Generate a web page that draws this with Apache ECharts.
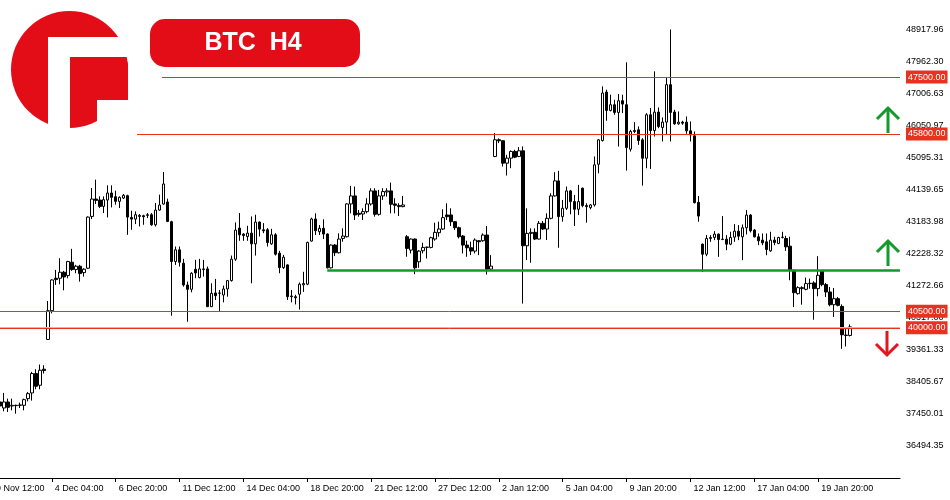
<!DOCTYPE html>
<html><head><meta charset="utf-8">
<script src="https://cdn.jsdelivr.net/npm/echarts@6/dist/echarts.min.js"></script>
<style>html,body{margin:0;padding:0;background:#fff}#c{width:950px;height:500px}</style>
</head><body><div id="c"></div>
<script>
// ---- data (H4 candles, index 3..216 of the visible slot grid) ----
const leadEmpty = 3;
const slots = 229;
const opens = [37783,37603,37783,37663,37683,37683,37683,37883,38053,38633,38283,38763,39653,40513,41483,41483,41663,41563,41963,41743,41843,41653,41783,43333,43853,43823,43633,43823,44033,43923,43783,43883,43953,43303,43253,43333,43353,43363,43383,43083,43523,43703,43763,43173,41983,42333,41933,41283,41153,41753,41503,41743,41763,40633,41043,41033,40983,41163,41413,42053,42983,42803,42733,42833,42513,43163,42933,42933,42513,42783,42233,41803,41883,40953,40930,41006,41286,41306,42596,43256,42876,42976,42806,41796,42476,42246,42676,42726,43706,43946,43426,43406,43476,43706,44096,43396,43946,44066,44096,43706,43656,43626,42726,42326,42656,41976,42306,42406,42406,42656,42846,42956,43376,43376,43176,42996,42746,42476,42396,42296,42606,42606,42776,41756,45126,45626,45596,44926,45076,45276,45126,45296,42456,42826,42856,42656,43126,42956,43276,43946,44396,43326,43576,44096,43776,43546,44176,43656,43596,43676,44893,45603,47053,46503,46673,46443,46793,46673,45343,45873,45923,45623,45073,46373,45903,46453,45993,46153,47273,46453,46103,46153,46153,45893,45743,43753,42503,42203,42673,42703,42803,42643,42653,42503,42713,42893,42723,42993,43373,42923,42723,42623,42573,42303,42623,42523,42703,42673,42443,41723,41023,41173,41153,41323,41343,41173,41693,41293,41073,40693,40873,40643,39773,39773];
const closes = [37663,37783,37623,37683,37673,37693,37853,38033,38633,38253,38733,38723,40513,41433,41443,41663,41523,41983,41743,41843,41623,41753,43313,43853,43813,43633,43833,44033,43903,43783,43903,43963,43313,43253,43383,43363,43323,43383,43083,43523,43673,44303,43183,41983,42333,41963,41283,41153,41633,41643,41763,41763,40633,41033,40963,41043,41163,41413,42053,42923,42783,42763,42833,42513,43163,42953,42903,42553,42783,42203,41803,42113,40933,40933,40900,41306,41326,42556,43256,42906,42976,42806,41796,42476,42246,42656,42746,43706,43946,43376,43396,43476,43706,44096,43396,43946,44076,44096,43696,43666,43626,43676,42376,42656,41796,42296,42406,42416,42696,42856,42956,43296,43326,43176,42996,42726,42476,42396,42296,42626,42576,42776,41756,41846,45626,45596,44926,45076,45276,45106,45296,42456,42826,42856,42656,43126,42956,43276,43946,44396,43326,43576,44096,43776,43546,43776,43656,43626,43676,44876,45623,47023,46503,46673,46443,46793,46693,45393,45873,45903,45603,45073,46373,45903,46453,46023,46153,47273,46443,46103,46153,46123,45893,45773,43743,43343,42203,42673,42703,42803,42643,42653,42503,42703,42893,42743,42993,43373,42903,42723,42603,42543,42343,42623,42553,42703,42713,42423,41723,41053,41203,41203,41323,41333,41173,41573,41293,41073,40693,40873,40673,39793,39783,40030];
const lows = [37633,37503,37483,37533,37433,37603,37533,37803,37823,38163,38163,38633,39640,40433,41283,41303,41123,41483,41703,41633,41383,41533,41763,43253,43703,43583,43433,43303,43603,43683,43583,43853,42783,42933,43103,43033,43083,43283,43053,43033,43503,43683,43163,40363,41883,41833,41233,40183,41063,41483,41483,41533,40623,40623,40833,40503,40763,40933,41383,42003,42603,42603,42603,41333,42163,42733,42833,42433,42483,42163,41633,41763,40833,40763,40700,40546,41076,41276,42576,42776,42776,42656,41776,41776,42146,42226,42576,42706,43426,43226,43326,43226,43426,43656,43326,43356,43826,43926,43426,43426,43346,43606,42126,42226,41606,41796,42226,42076,42376,42606,42726,42926,43226,43046,42926,42676,42226,42126,42176,42226,42176,42576,41596,41726,45106,45526,44826,44556,44776,45076,45106,40726,42026,41946,42626,42646,42926,42626,43246,43926,42396,43176,43526,43396,43046,43376,43606,43146,43546,43626,44623,45573,46193,46473,46373,45423,46423,44703,45273,45823,45473,44253,44773,44753,45723,45973,45573,45773,45573,46073,46073,46073,45803,45573,43723,43173,41673,42143,42573,42623,42123,42623,42323,42473,42573,42623,42023,42793,42853,42703,42473,42473,42173,42273,42473,42503,42673,42303,41423,40623,40993,40693,41123,41173,40243,40943,41243,40923,40643,40323,40643,39373,39443,39743];
const highs = [37833,38053,37883,37883,37703,37763,37883,38083,38683,38763,38903,38883,40803,41453,41733,42083,41703,42003,42363,41883,41883,41783,43333,44183,44433,43933,43933,44263,44263,44103,43933,44003,43983,43503,43483,43403,43383,43433,43433,43733,43983,44663,43863,43203,42433,42433,42063,41383,41663,42033,42063,42033,41833,41333,41463,41133,41263,41433,42163,43153,43433,42833,43053,43333,43383,43183,43133,42983,42963,42833,42303,42183,41900,41133,40990,41356,41676,42576,43296,43426,43076,43246,42826,42496,42506,42826,42976,43726,44246,44226,43526,43576,43876,44176,44176,44126,44176,44176,44346,43876,43726,43946,42776,42676,42676,42326,42546,42426,42726,43146,43176,43546,43726,43576,43196,43026,42776,42606,42576,42676,42626,42826,43046,42176,45826,45666,45606,45176,45306,45326,45406,45426,43576,42976,42976,43196,43196,43426,44026,44656,44696,43826,44226,44126,43976,44276,44196,43726,43706,45126,45643,47223,47123,46973,46823,46993,46973,47943,45923,46153,46023,45673,46423,46573,47673,46593,46293,47473,48923,46523,46473,46193,46323,46173,45873,43943,42523,42773,42773,42893,42823,43343,42773,42873,43103,43073,43093,43523,43403,42953,42823,42823,42823,42873,42723,42723,42873,42753,42723,41743,41243,41243,41503,41473,41393,42143,41723,41343,41223,41193,40923,40703,40023,40103];
const tickLabels = ["29 Nov 12:00","4 Dec 04:00","6 Dec 20:00","11 Dec 12:00","14 Dec 04:00","18 Dec 20:00","21 Dec 12:00","27 Dec 12:00","2 Jan 12:00","5 Jan 04:00","9 Jan 20:00","12 Jan 12:00","17 Jan 04:00","19 Jan 20:00"];
const labelEvery = 16;
const priceTicks = [36494.35,37450.01,38405.67,39361.33,40317.00,41272.66,42228.32,43183.98,44139.65,45095.31,46050.97,47006.63,47962.30,48917.96];
const yMin = 35509, yMax = 49806;
const levelValues = [47500, 45800, 41730, 40500, 40000];
const levelStarts = [43.6, 36.5, 85, -0.5, -0.5];
const levelColors = ['#e8321f', '#e8321f', '#129a2c', '#e8321f', '#e8321f'];
const levelWidths = [1, 1, 2.5, 1, 1];
const levelLabeled = [true, true, false, true, true];

// ---- build ----
const categories = Array.from({length: slots}, (_, i) => String(i));
const candles = categories.map((_, i) => {
  const k = i - leadEmpty;
  if (k < 0 || k >= opens.length) return '-';
  return [opens[k], closes[k], lows[k], highs[k]];
});
const lastClose = closes[closes.length - 1];
const font = '"Liberation Sans", Arial, sans-serif';
const isLabelled = (i) => i % labelEvery === 0 && i / labelEvery < tickLabels.length;

const lineData = [[{coord: [-0.5, lastClose], lineStyle: {color: '#c0c0c0', width: 1, type: 'solid'}, label: {show: false}}, {coord: [slots - 0.5, lastClose]}]];
levelValues.forEach((v, j) => {
  lineData.push([{
    coord: [levelStarts[j], v],
    lineStyle: {color: levelColors[j], width: levelWidths[j], type: 'solid'},
    label: levelLabeled[j] ? {
      show: true, position: 'end', distance: 6, formatter: v.toFixed(2),
      color: '#fff', backgroundColor: '#e8321f', padding: [2, 2, 1, 2],
      fontSize: 9, fontFamily: font, lineHeight: 10
    } : {show: false}
  }, {coord: [slots - 0.5, v]}]);
});

const chart = echarts.init(document.getElementById('c'), null, {renderer: 'canvas'});
chart.setOption({
  animation: false,
  backgroundColor: '#fff',
  grid: {left: -14, right: 50, top: 0, bottom: 22, containLabel: false, outerBoundsMode: 'none'},
  xAxis: [{
    type: 'category', data: categories, boundaryGap: true,
    axisLine: {show: true, lineStyle: {color: '#000', width: 1}},
    axisTick: {show: true, alignWithLabel: true, length: 4, interval: isLabelled, lineStyle: {color: '#000'}},
    axisLabel: {
      show: true, interval: isLabelled,
      formatter: (v) => tickLabels[Number(v) / labelEvery] || '',
      align: 'left', padding: [0, 0, 0, 3], fontSize: 9, fontFamily: font, color: '#000', margin: 6
    },
    splitLine: {show: false}
  }, {
    type: 'value', min: -0.5, max: slots - 0.5, show: false
  }],
  yAxis: {
    type: 'value', position: 'right', min: yMin, max: yMax, scale: true,
    axisLine: {show: true, lineStyle: {color: '#000', width: 1}},
    axisTick: {show: true, customValues: priceTicks, length: 3, lineStyle: {color: '#000'}},
    axisLabel: {customValues: priceTicks, formatter: (v) => v.toFixed(2), fontSize: 9, fontFamily: font, color: '#000', margin: 6},
    splitLine: {show: false}
  },
  series: [{
    type: 'candlestick', data: candles, barWidth: 3,
    itemStyle: {color: '#fff', color0: '#000', borderColor: '#000', borderColor0: '#000', borderWidth: 1},
    z: 3
  }, {
    type: 'line', xAxisIndex: 1, data: [], z: 4,
    markLine: {symbol: ['none', 'none'], silent: true, animation: false, data: lineData}
  }],
  graphic: [
    {type: 'circle', shape: {cx: 69.5, cy: 69.5, r: 58.5}, style: {fill: '#e30d18'}, z: 100},
    {type: 'rect', shape: {x: 48, y: 37, width: 90, height: 20}, style: {fill: '#fff'}, z: 101},
    {type: 'rect', shape: {x: 48, y: 37, width: 22, height: 100}, style: {fill: '#fff'}, z: 101},
    {type: 'rect', shape: {x: 97, y: 100, width: 40, height: 36}, style: {fill: '#fff'}, z: 101},
    {type: 'rect', shape: {x: 70, y: 57, width: 58, height: 43, r: [0, 8, 0, 0]}, style: {fill: '#e30d18'}, z: 102},
    {type: 'rect', shape: {x: 150, y: 19, width: 210, height: 48, r: 15}, style: {fill: '#e30d18'}, z: 100},
    {type: 'text', x: 253, y: 43, style: {text: 'BTC  H4', fill: '#fff', fontSize: 25, fontWeight: 'bold', fontFamily: font, align: 'center', verticalAlign: 'middle'}, z: 101},
    {type: 'polyline', shape: {points: [[888, 133], [888, 109]]}, style: {stroke: '#129a2c', lineWidth: 3, fill: null}, z: 100},
    {type: 'polyline', shape: {points: [[877, 119], [888, 108], [899, 119]]}, style: {stroke: '#129a2c', lineWidth: 3, fill: null}, z: 100},
    {type: 'polyline', shape: {points: [[888, 266], [888, 242]]}, style: {stroke: '#129a2c', lineWidth: 3, fill: null}, z: 100},
    {type: 'polyline', shape: {points: [[877, 252], [888, 241], [899, 252]]}, style: {stroke: '#129a2c', lineWidth: 3, fill: null}, z: 100},
    {type: 'polyline', shape: {points: [[887, 331], [887, 354]]}, style: {stroke: '#e3161e', lineWidth: 3, fill: null}, z: 100},
    {type: 'polyline', shape: {points: [[876, 344], [887, 355], [898, 344]]}, style: {stroke: '#e3161e', lineWidth: 3, fill: null}, z: 100}
  ]
});
</script></body></html>
